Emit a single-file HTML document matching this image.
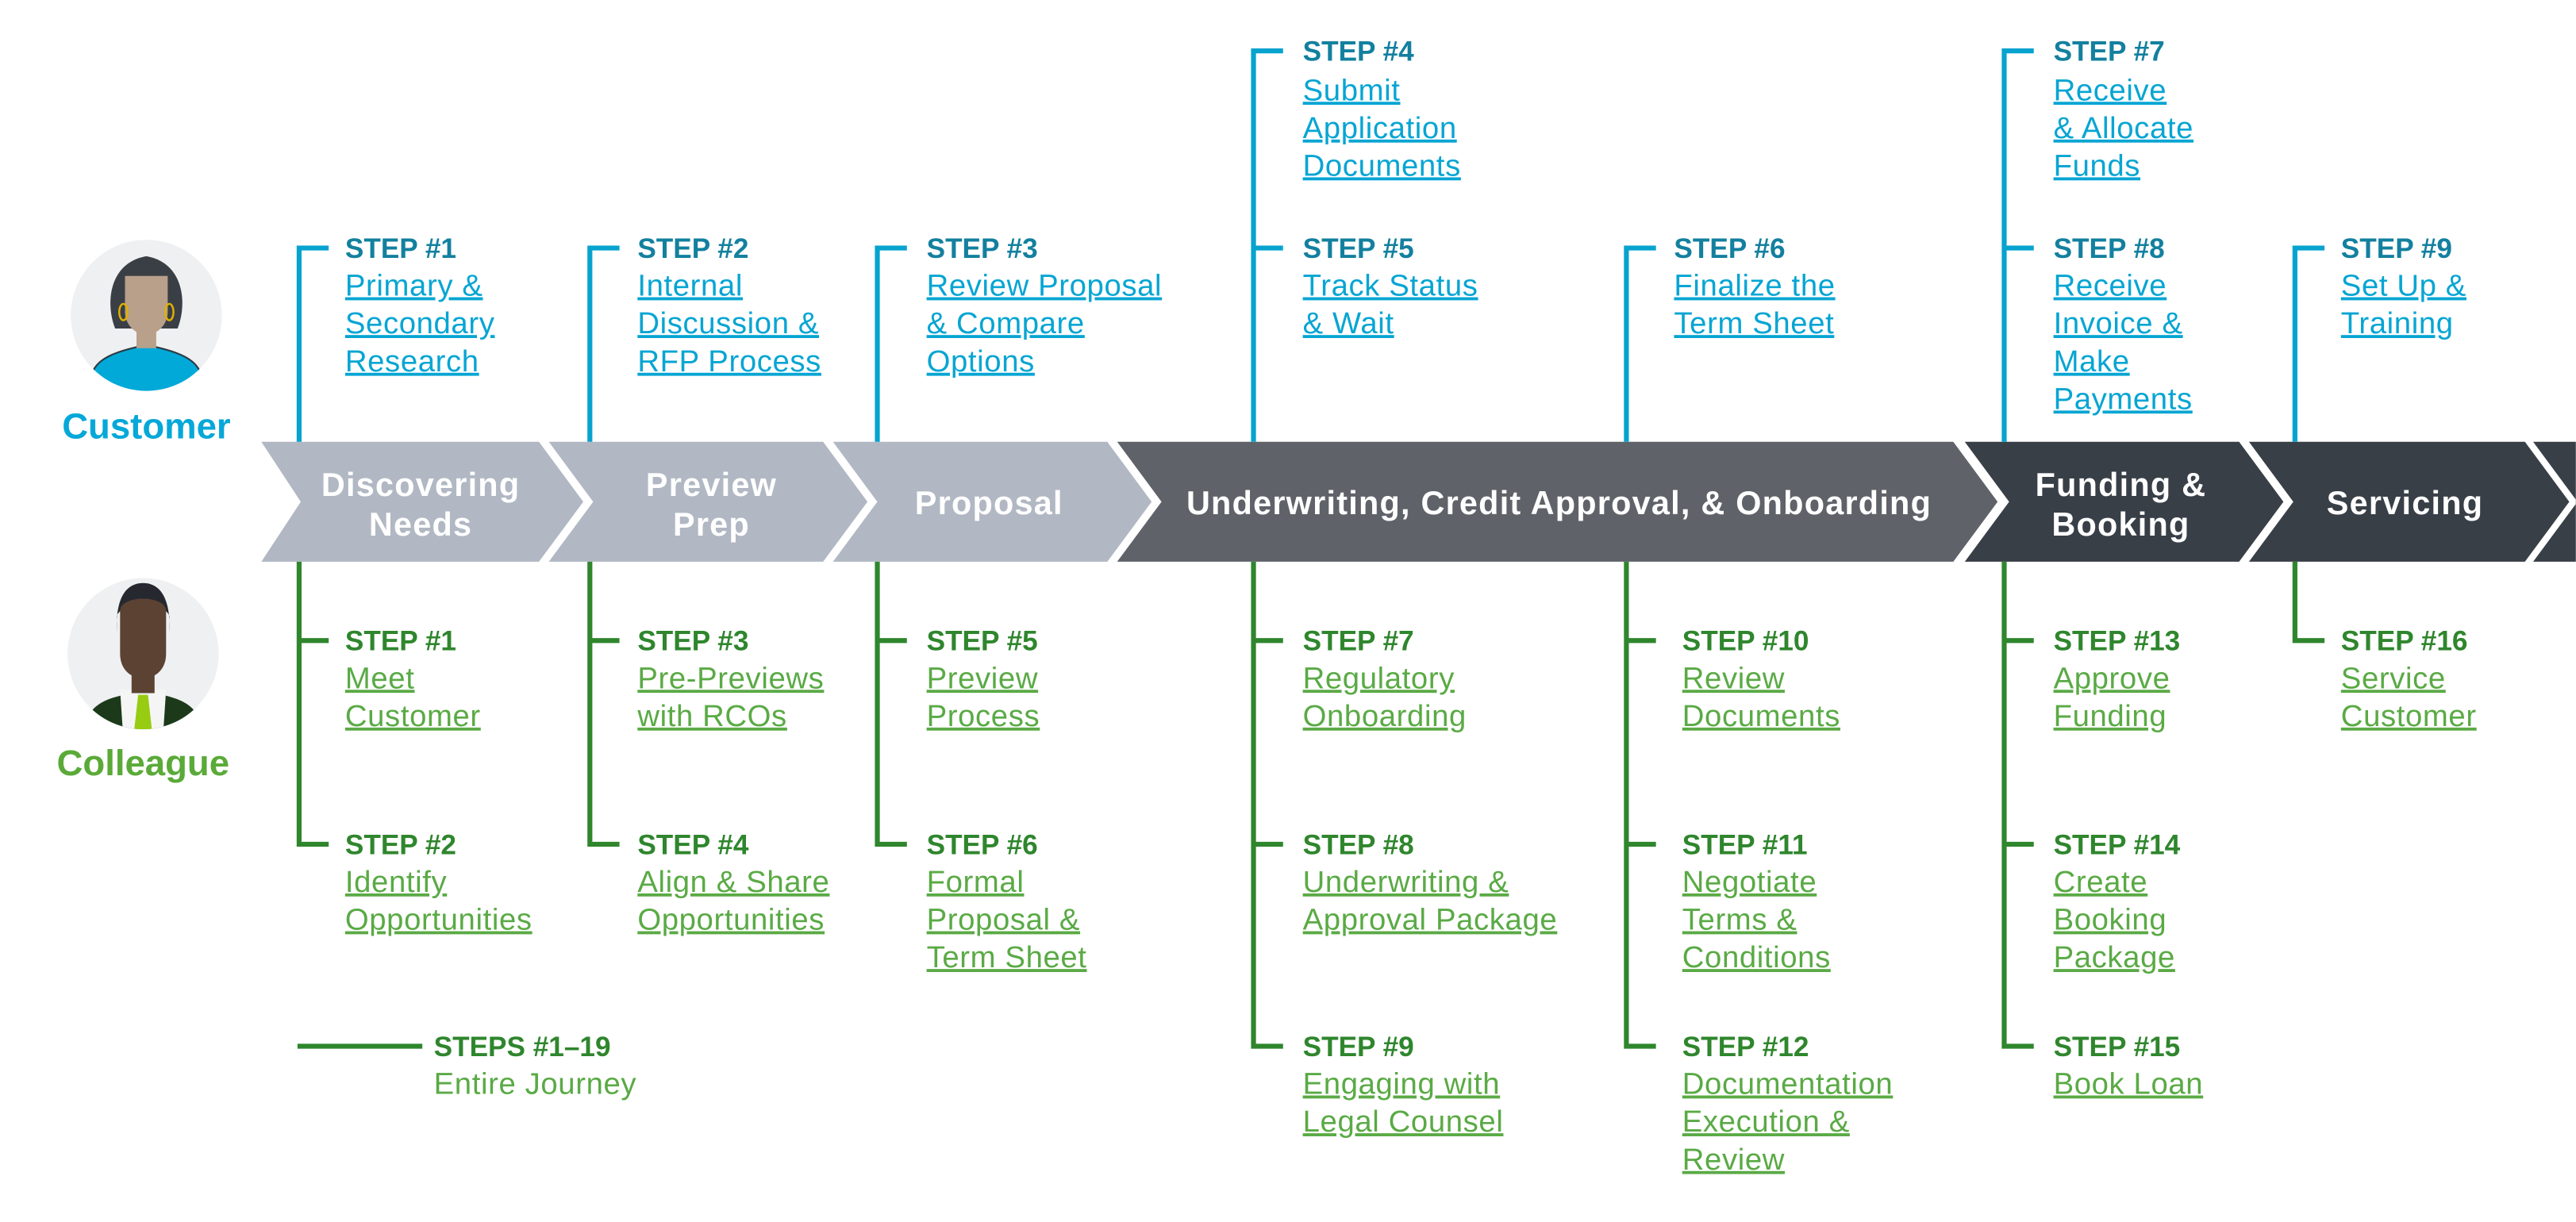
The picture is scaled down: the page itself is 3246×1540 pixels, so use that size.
<!DOCTYPE html>
<html><head><meta charset="utf-8"><style>
html,body{margin:0;padding:0;background:#fff;}
svg{display:block;}
text{font-family:"Liberation Sans",sans-serif;}
.sb{fill:#13809f;font-weight:bold;font-size:17px;}
.lb{fill:#06a5d3;font-size:18.5px;letter-spacing:0.3px;text-decoration:underline;}
.sg{fill:#2f862d;font-weight:bold;font-size:17px;}
.lg{fill:#5aaa45;font-size:18.5px;letter-spacing:0.3px;text-decoration:underline;}
.ch{fill:#fff;font-weight:bold;font-size:20px;letter-spacing:0.6px;text-anchor:middle;}
</style></head><body>
<svg width="3246" height="1540" viewBox="0 0 1568 744" xmlns="http://www.w3.org/2000/svg">
<polygon points="159,269 328,269 355,305.5 328,342 159,342 183,305.5" fill="#b1b8c3"/>
<polygon points="334,269 501,269 528,305.5 501,342 334,342 361,305.5" fill="#b1b8c3"/>
<polygon points="507,269 674,269 701,305.5 674,342 507,342 534,305.5" fill="#b1b8c3"/>
<polygon points="680,269 1189,269 1216,305.5 1189,342 680,342 707,305.5" fill="#5f6369"/>
<polygon points="1196,269 1363,269 1390,305.5 1363,342 1196,342 1223,305.5" fill="#393f47"/>
<polygon points="1369,269 1537,269 1564,305.5 1537,342 1369,342 1396,305.5" fill="#393f47"/>
<polygon points="1542,269 1568,269 1568,342 1542,342 1569,305.5" fill="#393f47"/>
<text class="ch" x="256" y="302">Discovering</text><text class="ch" x="256" y="326">Needs</text>
<text class="ch" x="433" y="302">Preview</text><text class="ch" x="433" y="326">Prep</text>
<text class="ch" x="602" y="313">Proposal</text>
<text class="ch" x="949" y="313">Underwriting, Credit Approval, &amp; Onboarding</text>
<text class="ch" x="1291" y="302">Funding &amp;</text><text class="ch" x="1291" y="326">Booking</text>
<text class="ch" x="1464" y="313">Servicing</text>

<g stroke="#07a3cf" stroke-width="3" fill="none">
<path d="M200,151 H182 V269"/>
<path d="M377,151 H359 V269"/>
<path d="M552,151 H534 V269"/>
<path d="M781,31 H763 V269 M763,151 H781"/>
<path d="M1008,151 H990 V269"/>
<path d="M1238,31 H1220 V269 M1220,151 H1238"/>
<path d="M1415,151 H1397 V269"/>
</g>
<g stroke="#2f862d" stroke-width="3" fill="none">
<path d="M182,342 V514 H200 M182,390 H200"/>
<path d="M359,342 V514 H377 M359,390 H377"/>
<path d="M534,342 V514 H552 M534,390 H552"/>
<path d="M763,342 V637 H781 M763,390 H781 M763,514 H781"/>
<path d="M990,342 V637 H1008 M990,390 H1008 M990,514 H1008"/>
<path d="M1220,342 V637 H1238 M1220,390 H1238 M1220,514 H1238"/>
<path d="M1397,342 V390 H1415"/>
<path d="M181,637 H257"/>
</g>

<text class="sb" x="210" y="157">STEP #1</text>
<text class="lb" x="210" y="180">Primary &amp;</text><text class="lb" x="210" y="203">Secondary</text><text class="lb" x="210" y="226">Research</text>
<text class="sb" x="388" y="157">STEP #2</text>
<text class="lb" x="388" y="180">Internal</text><text class="lb" x="388" y="203">Discussion &amp;</text><text class="lb" x="388" y="226">RFP Process</text>
<text class="sb" x="564" y="157">STEP #3</text>
<text class="lb" x="564" y="180">Review Proposal</text><text class="lb" x="564" y="203">&amp; Compare</text><text class="lb" x="564" y="226">Options</text>
<text class="sb" x="793" y="37">STEP #4</text>
<text class="lb" x="793" y="61">Submit</text><text class="lb" x="793" y="84">Application</text><text class="lb" x="793" y="107">Documents</text>
<text class="sb" x="793" y="157">STEP #5</text>
<text class="lb" x="793" y="180">Track Status</text><text class="lb" x="793" y="203">&amp; Wait</text>
<text class="sb" x="1019" y="157">STEP #6</text>
<text class="lb" x="1019" y="180">Finalize the</text><text class="lb" x="1019" y="203">Term Sheet</text>
<text class="sb" x="1250" y="37">STEP #7</text>
<text class="lb" x="1250" y="61">Receive</text><text class="lb" x="1250" y="84">&amp; Allocate</text><text class="lb" x="1250" y="107">Funds</text>
<text class="sb" x="1250" y="157">STEP #8</text>
<text class="lb" x="1250" y="180">Receive</text><text class="lb" x="1250" y="203">Invoice &amp;</text><text class="lb" x="1250" y="226">Make</text><text class="lb" x="1250" y="249">Payments</text>
<text class="sb" x="1425" y="157">STEP #9</text>
<text class="lb" x="1425" y="180">Set Up &amp;</text><text class="lb" x="1425" y="203">Training</text>

<text class="sg" x="210" y="396">STEP #1</text>
<text class="lg" x="210" y="419">Meet</text><text class="lg" x="210" y="442">Customer</text>
<text class="sg" x="210" y="520">STEP #2</text>
<text class="lg" x="210" y="543">Identify</text><text class="lg" x="210" y="566">Opportunities</text>
<text class="sg" x="388" y="396">STEP #3</text>
<text class="lg" x="388" y="419">Pre-Previews</text><text class="lg" x="388" y="442">with RCOs</text>
<text class="sg" x="388" y="520">STEP #4</text>
<text class="lg" x="388" y="543">Align &amp; Share</text><text class="lg" x="388" y="566">Opportunities</text>
<text class="sg" x="564" y="396">STEP #5</text>
<text class="lg" x="564" y="419">Preview</text><text class="lg" x="564" y="442">Process</text>
<text class="sg" x="564" y="520">STEP #6</text>
<text class="lg" x="564" y="543">Formal</text><text class="lg" x="564" y="566">Proposal &amp;</text><text class="lg" x="564" y="589">Term Sheet</text>
<text class="sg" x="793" y="396">STEP #7</text>
<text class="lg" x="793" y="419">Regulatory</text><text class="lg" x="793" y="442">Onboarding</text>
<text class="sg" x="793" y="520">STEP #8</text>
<text class="lg" x="793" y="543">Underwriting &amp;</text><text class="lg" x="793" y="566">Approval Package</text>
<text class="sg" x="793" y="643">STEP #9</text>
<text class="lg" x="793" y="666">Engaging with</text><text class="lg" x="793" y="689">Legal Counsel</text>
<text class="sg" x="1024" y="396">STEP #10</text>
<text class="lg" x="1024" y="419">Review</text><text class="lg" x="1024" y="442">Documents</text>
<text class="sg" x="1024" y="520">STEP #11</text>
<text class="lg" x="1024" y="543">Negotiate</text><text class="lg" x="1024" y="566">Terms &amp;</text><text class="lg" x="1024" y="589">Conditions</text>
<text class="sg" x="1024" y="643">STEP #12</text>
<text class="lg" x="1024" y="666">Documentation</text><text class="lg" x="1024" y="689">Execution &amp;</text><text class="lg" x="1024" y="712">Review</text>
<text class="sg" x="1250" y="396">STEP #13</text>
<text class="lg" x="1250" y="419">Approve</text><text class="lg" x="1250" y="442">Funding</text>
<text class="sg" x="1250" y="520">STEP #14</text>
<text class="lg" x="1250" y="543">Create</text><text class="lg" x="1250" y="566">Booking</text><text class="lg" x="1250" y="589">Package</text>
<text class="sg" x="1250" y="643">STEP #15</text>
<text class="lg" x="1250" y="666">Book Loan</text>
<text class="sg" x="1425" y="396">STEP #16</text>
<text class="lg" x="1425" y="419">Service</text><text class="lg" x="1425" y="442">Customer</text>
<text class="sg" x="264" y="643">STEPS #1–19</text>
<text x="264" y="666" style="fill:#5aaa45;font-size:18.5px;letter-spacing:0.3px">Entire Journey</text>

<defs>
<clipPath id="c1"><circle cx="89" cy="192" r="46"/></clipPath>
<clipPath id="c2"><circle cx="87" cy="398" r="46"/></clipPath>
</defs>
<circle cx="89" cy="192" r="46" fill="#eff0f1"/>
<g clip-path="url(#c1)">
<path d="M70,200 C64,185 66,160 89,156 C112,160 114,185 108,200 Z" fill="#3a3f46"/>
<path d="M54,240 C54,222 60,216 89,210 C118,216 124,222 124,240 Z" fill="#00a9d8" stroke="#2d3a45" stroke-width="1"/>
<rect x="83" y="196" width="12" height="16" fill="#b9a08a"/>
<path d="M76,168 H102 V190 C102,198 95,204 89,204 C83,204 76,198 76,190 Z" fill="#b9a08a"/>
<ellipse cx="75" cy="190" rx="2.5" ry="5" fill="none" stroke="#e0b000" stroke-width="1.2"/>
<ellipse cx="103" cy="190" rx="2.5" ry="5" fill="none" stroke="#e0b000" stroke-width="1.2"/>
</g>
<text x="89" y="267" text-anchor="middle" style="fill:#05a8d8;font-weight:bold;font-size:22px">Customer</text>
<circle cx="87" cy="398" r="46" fill="#eff0f1"/>
<g clip-path="url(#c2)">
<path d="M50,450 C52,430 60,425 87,421 C114,425 122,430 124,450 Z" fill="#1c3a1a"/>
<path d="M73,420 H101 L99,450 H75 Z" fill="#f5f5f5"/>
<path d="M84,423 H90 L93,450 H81 Z" fill="#97cc12"/>
<rect x="80" y="404" width="14" height="18" fill="#5c4233"/>
<path d="M71,385 C70,362 78,355 87,355 C96,355 104,362 103,385 L103,375 C100,366 74,366 71,375 Z" fill="#262830"/>
<path d="M73,372 C73,362 101,362 101,372 V398 C101,408 94,413 87,413 C80,413 73,408 73,398 Z" fill="#5c4233"/>
</g>
<text x="87" y="472" text-anchor="middle" style="fill:#5aaa38;font-weight:bold;font-size:22px">Colleague</text>
</svg>
</body></html>
